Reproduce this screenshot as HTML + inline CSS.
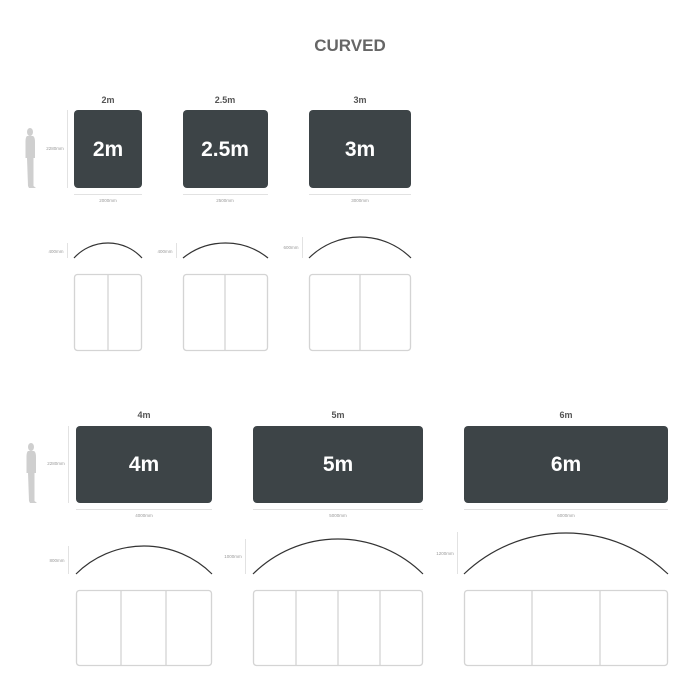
<!DOCTYPE html>
<html><head><meta charset="utf-8"><style>
html,body{margin:0;padding:0;background:#fff;width:700px;height:700px;overflow:hidden}
svg text{font-family:"Liberation Sans",sans-serif}
</style></head><body>
<svg width="700" height="700" viewBox="0 0 700 700" xmlns="http://www.w3.org/2000/svg">
<defs>
<g id="person" fill="#cfcfcf">
<ellipse cx="6" cy="4" rx="3" ry="4"/>
<path d="M3 8 L9 8 Q11 9 11 14 L11 30 L9.5 30 L9.5 58 L12 60 L5 60 L4 58 L3 30 L1.5 30 L1.5 14 Q1.5 9 3 8Z"/>
</g>
</defs>
<text x="350" y="51" text-anchor="middle" font-size="17" font-weight="bold" fill="#666">CURVED</text>

<!-- top row labels -->
<g font-size="9" font-weight="bold" fill="#555" text-anchor="middle">
<text x="108" y="103">2m</text><text x="225" y="103">2.5m</text><text x="360" y="103">3m</text>
<text x="144" y="418">4m</text><text x="338" y="418">5m</text><text x="566" y="418">6m</text>
</g>
<!-- dark boxes -->
<g fill="#3d4447">
<rect x="74" y="110" width="68" height="78" rx="4"/>
<rect x="183" y="110" width="85" height="78" rx="4"/>
<rect x="309" y="110" width="102" height="78" rx="4"/>
<rect x="76" y="426" width="136" height="77" rx="4"/>
<rect x="253" y="426" width="170" height="77" rx="4"/>
<rect x="464" y="426" width="204" height="77" rx="4"/>
</g>
<g font-size="21" font-weight="bold" fill="#fff" text-anchor="middle">
<text x="108" y="156">2m</text><text x="225" y="156">2.5m</text><text x="360" y="156">3m</text>
<text x="144" y="471">4m</text><text x="338" y="471">5m</text><text x="566" y="471">6m</text>
</g>
<!-- person -->
<use href="#person" x="24" y="128"/>
<use href="#person" x="25" y="443"/>
<!-- dimension lines -->
<g stroke="#e2e2e2" stroke-width="1">
<line x1="67.5" y1="110" x2="67.5" y2="188"/>
<line x1="68.5" y1="426" x2="68.5" y2="503"/>
<line x1="74" y1="194.5" x2="142" y2="194.5"/>
<line x1="183" y1="194.5" x2="268" y2="194.5"/>
<line x1="309" y1="194.5" x2="411" y2="194.5"/>
<line x1="76" y1="509.5" x2="212" y2="509.5"/>
<line x1="253" y1="509.5" x2="423" y2="509.5"/>
<line x1="464" y1="509.5" x2="668" y2="509.5"/>
<line x1="67.5" y1="243" x2="67.5" y2="258"/>
<line x1="176.5" y1="243" x2="176.5" y2="258"/>
<line x1="302.5" y1="237" x2="302.5" y2="258"/>
<line x1="68.5" y1="546" x2="68.5" y2="574"/>
<line x1="245.5" y1="539" x2="245.5" y2="574"/>
<line x1="457.5" y1="532" x2="457.5" y2="574"/>
</g>
<g font-size="4.5" fill="#999" text-anchor="middle">
<text x="55" y="150">2280mm</text>
<text x="56" y="465">2280mm</text>
<text x="108" y="202">2000mm</text>
<text x="225" y="202">2500mm</text>
<text x="360" y="202">3000mm</text>
<text x="144" y="517">4000mm</text>
<text x="338" y="517">5000mm</text>
<text x="566" y="517">6000mm</text>
<text x="56" y="253">400mm</text>
<text x="165" y="253">400mm</text>
<text x="291" y="249">600mm</text>
<text x="57" y="562">800mm</text>
<text x="233" y="558">1000mm</text>
<text x="445" y="555">1200mm</text>
</g>
<!-- arcs -->
<g fill="none" stroke="#333" stroke-width="1.2">
<path d="M74 258 A46 46 0 0 1 142 258"/>
<path d="M183 258 A67.7 67.7 0 0 1 268 258"/>
<path d="M309 258 A72.4 72.4 0 0 1 411 258"/>
<path d="M76 574 A96.6 96.6 0 0 1 212 574"/>
<path d="M253 574 A120.7 120.7 0 0 1 423 574"/>
<path d="M464 574 A147.4 147.4 0 0 1 668 574"/>
</g>
<!-- panels -->
<g fill="none" stroke="#d4d4d4" stroke-width="1.3">
<rect x="74.5" y="274.5" width="67" height="76" rx="3"/>
<line x1="108" y1="275" x2="108" y2="350"/>
<rect x="183.5" y="274.5" width="84" height="76" rx="3"/>
<line x1="225" y1="275" x2="225" y2="350"/>
<rect x="309.5" y="274.5" width="101" height="76" rx="3"/>
<line x1="360" y1="275" x2="360" y2="350"/>
<rect x="76.5" y="590.5" width="135" height="75" rx="3"/>
<line x1="121" y1="591" x2="121" y2="665"/><line x1="166" y1="591" x2="166" y2="665"/>
<rect x="253.5" y="590.5" width="169" height="75" rx="3"/>
<line x1="296" y1="591" x2="296" y2="665"/><line x1="338" y1="591" x2="338" y2="665"/><line x1="380" y1="591" x2="380" y2="665"/>
<rect x="464.5" y="590.5" width="203" height="75" rx="3"/>
<line x1="532" y1="591" x2="532" y2="665"/><line x1="600" y1="591" x2="600" y2="665"/>
</g>
</svg>
</body></html>
